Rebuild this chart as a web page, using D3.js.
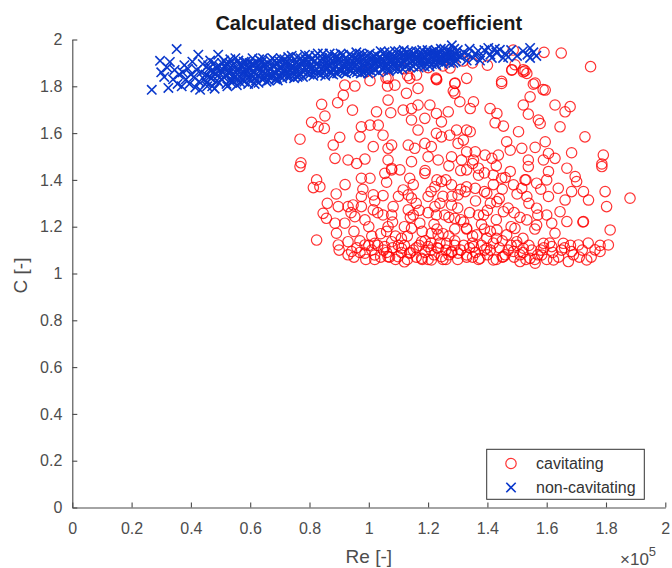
<!DOCTYPE html>
<html>
<head>
<meta charset="utf-8">
<script src="https://cdn.jsdelivr.net/npm/d3@7"></script>
<style>
  body { margin: 0; background: #fff; }
  svg { display: block; }
  text { font-family: "Liberation Sans", Arial, Helvetica, sans-serif; }
</style>
</head>
<body>
<svg id="chart" width="672" height="568"></svg>
<script>
// Re values are in units of 1e5 (the axis carries the x10^5 multiplier)
const xTicks = [0, 0.2, 0.4, 0.6, 0.8, 1, 1.2, 1.4, 1.6, 1.8, 2];
const yTicks = [0, 0.2, 0.4, 0.6, 0.8, 1, 1.2, 1.4, 1.6, 1.8, 2];
const seriesNames = ["cavitating", "non-cavitating"];

// [Re (x1e5), C] for cavitating runs
const cavitating = [
  [0.919,1.805],[0.953,1.801],[0.914,1.762],[0.895,1.730],[0.841,1.723],[0.852,1.673],[0.807,1.646],[0.829,1.627],
  [0.850,1.620],[0.945,1.698],[1.004,1.824],[1.065,1.834],[1.063,1.801],[1.088,1.805],[1.127,1.770],[1.166,1.791],
  [1.138,1.834],[1.161,1.848],[1.228,1.831],[1.290,1.812],[1.290,1.770],[1.307,1.734],[1.065,1.741],[1.026,1.691],
  [1.074,1.687],[1.116,1.698],[1.144,1.705],[1.166,1.720],[1.206,1.720],[1.144,1.656],[1.189,1.663],[1.228,1.684],
  [1.268,1.691],[1.245,1.648],[1.296,1.613],[1.273,1.591],[1.245,1.584],[1.228,1.599],[1.166,1.613],[0.975,1.627],
  [1.004,1.634],[1.032,1.634],[0.970,1.584],[0.902,1.582],[0.880,1.549],[1.048,1.591],[1.015,1.542],[1.065,1.535],
  [1.077,1.549],[0.768,1.574],[0.771,1.473],[0.886,1.492],[0.930,1.485],[0.959,1.470],[0.987,1.489],[1.065,1.485],
  [1.077,1.449],[1.133,1.549],[1.155,1.535],[1.189,1.556],[1.211,1.542],[1.144,1.478],[1.200,1.499],[1.234,1.485],
  [1.279,1.499],[1.301,1.556],[1.313,1.485],
  [1.748,1.884],[1.482,1.869],[1.521,1.862],[1.533,1.855],[1.330,1.834],[1.448,1.812],[1.555,1.809],[1.595,1.784],
  [1.544,1.755],[1.521,1.720],[1.538,1.681],[1.628,1.720],[1.662,1.691],[1.679,1.713],[1.572,1.656],[1.578,1.641],
  [1.645,1.627],[1.505,1.606],[1.465,1.563],[1.516,1.535],[1.561,1.539],[1.595,1.563],[1.606,1.513],[1.628,1.492],
  [1.538,1.485],[1.589,1.485],[1.684,1.516],[1.729,1.584],[1.791,1.506],[1.786,1.468],[1.409,1.705],[1.432,1.684],
  [1.426,1.644],[1.454,1.630],[1.353,1.734],[1.342,1.705],[1.330,1.613],[1.342,1.606],[1.319,1.570],[1.330,1.520],
  [1.359,1.520],[1.392,1.506],[1.415,1.492],[1.437,1.506],[1.477,1.527],[1.353,1.485],
  [0.768,1.457],[0.824,1.400],[0.835,1.371],[0.813,1.367],[0.975,1.407],[1.004,1.407],[1.054,1.428],[1.077,1.443],
  [1.105,1.443],[1.138,1.407],[1.116,1.357],[1.133,1.336],[1.144,1.322],[0.975,1.329],[1.015,1.336],[1.048,1.333],
  [0.897,1.286],[0.930,1.286],[0.947,1.293],[0.975,1.286],[0.846,1.257],[0.857,1.236],[0.886,1.215],[0.919,1.215],
  [0.953,1.243],[0.987,1.229],[1.015,1.272],[1.048,1.250],[1.082,1.286],[1.077,1.250],[1.065,1.200],[1.133,1.272],
  [1.150,1.250],[1.172,1.215],[1.144,1.193],[1.223,1.286],[1.228,1.250],[1.211,1.172],[1.234,1.165],[0.824,1.143],
  [0.891,1.172],[0.897,1.122],[0.930,1.136],[0.942,1.094],[0.987,1.122],[1.020,1.129],[1.054,1.115],[1.077,1.136],
  [1.110,1.108],[1.138,1.087],[1.178,1.136],[1.200,1.115],[1.234,1.108],[1.262,1.129],[1.279,1.094],[1.301,1.087],
  [0.987,1.087],[1.020,1.079],[1.065,1.072],[1.099,1.072],[1.178,1.065],[1.211,1.058],[1.245,1.072],[1.256,1.250],
  [1.290,1.236],[1.279,1.293],[1.245,1.393],[1.279,1.379],[1.301,1.336],[1.200,1.329],[1.223,1.371],[1.189,1.428],
  [1.330,1.443],[1.370,1.450],[1.477,1.436],[1.420,1.421],[1.448,1.407],[1.538,1.457],[1.606,1.436],[1.668,1.450],
  [1.696,1.414],[1.701,1.393],[1.786,1.457],[1.527,1.400],[1.566,1.386],[1.600,1.400],[1.639,1.364],[1.684,1.350],
  [1.724,1.350],[1.741,1.314],[1.797,1.350],[1.802,1.286],[1.881,1.322],[1.488,1.379],[1.516,1.364],[1.533,1.329],
  [1.566,1.279],[1.606,1.329],[1.662,1.314],[1.645,1.264],[1.600,1.250],[1.533,1.229],[1.493,1.193],[1.566,1.207],
  [1.617,1.215],[1.668,1.222],[1.724,1.222],[1.722,1.220],[1.814,1.186],[1.808,1.122],[1.763,1.101],[1.780,1.094],
  [1.735,1.058],[1.673,1.051],[1.623,1.058],[1.583,1.079],[1.589,1.129],[1.628,1.172],[1.656,1.129],[1.684,1.094],
  [1.707,1.122],[1.617,1.115],[1.325,1.350],[1.359,1.364],[1.398,1.343],[1.432,1.307],[1.454,1.264],[1.387,1.250],
  [1.330,1.193],[1.364,1.165],[1.398,1.151],[1.432,1.186],[1.465,1.165],[1.499,1.136],[1.488,1.094],[1.454,1.072],
  [1.420,1.058],[1.375,1.065],[1.330,1.079],[1.353,1.115],[1.398,1.108],[1.521,1.108],[1.544,1.065],[1.510,1.051],
  [1.561,1.044],
  [0.990,1.862],[1.058,1.835],[1.131,1.845],[1.227,1.835],[1.250,1.887],[1.274,1.878],[1.318,1.908],[1.229,1.828],
  [1.285,1.780],[1.291,1.814],[1.448,1.821],[1.483,1.871],[1.493,1.892],[1.521,1.871],[1.527,1.866],[1.561,1.814],
  [1.588,1.786],[1.487,1.955],[1.591,1.945],[1.649,1.942],[1.200,1.880],[1.120,1.875],[1.350,1.900],[1.400,1.890],
  [0.900,1.100],[0.930,1.080],[0.960,1.110],[0.990,1.060],[1.010,1.100],[1.030,1.120],[1.040,1.070],[1.060,1.090],
  [1.080,1.110],[1.090,1.060],[1.110,1.090],[1.120,1.120],[1.130,1.060],[1.150,1.100],[1.160,1.070],[1.170,1.120],
  [1.190,1.090],[1.200,1.060],[1.220,1.080],[1.230,1.110],[1.250,1.060],[1.260,1.100],[1.270,1.080],[1.290,1.120],
  [1.300,1.060],[1.310,1.100],[1.330,1.070],[1.340,1.110],[1.360,1.090],[1.370,1.060],[1.380,1.120],[1.400,1.080],
  [1.410,1.100],[1.430,1.060],[1.440,1.110],[1.460,1.080],[1.470,1.100],[1.490,1.070],[1.500,1.120],[1.520,1.090],
  [1.530,1.060],[1.550,1.100],[1.570,1.080],[1.590,1.110],[1.600,1.060],[1.620,1.090],[1.640,1.070],[1.660,1.110],
  [1.690,1.080],[1.720,1.100],[1.750,1.070],[1.780,1.120],
  [1.120,1.200],[1.140,1.240],[1.160,1.300],[1.180,1.180],[1.200,1.260],[1.210,1.350],[1.220,1.210],[1.240,1.300],
  [1.250,1.170],[1.260,1.400],[1.270,1.240],[1.280,1.330],[1.290,1.190],[1.300,1.280],[1.310,1.440],[1.320,1.220],
  [1.330,1.370],[1.340,1.260],[1.350,1.160],[1.360,1.310],[1.370,1.420],[1.380,1.210],[1.390,1.350],[1.400,1.270],
  [1.410,1.180],[1.420,1.380],[1.430,1.230],[1.440,1.320],[1.450,1.140],[1.460,1.410],[1.470,1.280],[1.480,1.200],
  [1.500,1.340],[1.510,1.240],[1.520,1.150],[1.540,1.300],[1.560,1.190],[1.580,1.360],[1.150,1.380],[1.190,1.440],
  [1.230,1.400],[1.270,1.460],[1.310,1.360],[1.350,1.470],[1.390,1.430],[1.430,1.460],[1.130,1.160],[1.170,1.270],
  [1.210,1.130],[1.250,1.330],[1.290,1.140],[1.330,1.190],[1.370,1.250],[1.410,1.300],[1.450,1.360],[1.490,1.260],
  [1.530,1.400],[1.570,1.250],
  [0.860,1.300],[0.890,1.340],[0.920,1.380],[0.950,1.180],[0.980,1.360],[1.000,1.200],[1.020,1.310],[1.040,1.170],
  [1.060,1.390],[1.080,1.220],[1.100,1.330],[0.940,1.260],[0.970,1.140],[1.030,1.260],[1.090,1.160],
  [0.950,1.070],[0.970,1.090],[1.000,1.120],[1.020,1.060],[1.050,1.100],[1.070,1.070],[1.100,1.120],[1.120,1.050],
  [1.140,1.090],[1.160,1.110],[1.180,1.060],[1.210,1.100],[1.240,1.130],[1.260,1.060],[1.280,1.090],[1.320,1.120],
  [1.350,1.070],[1.390,1.100],[1.420,1.130],[1.450,1.070],[1.480,1.120],[1.510,1.080],[1.540,1.120],[1.560,1.060],
  [1.580,1.100],[1.610,1.130],[1.650,1.100],[1.680,1.120],[1.710,1.070],[1.740,1.130],[1.110,1.150],[1.190,1.140],
  [1.270,1.160],[1.350,1.130],[1.430,1.150],[1.010,1.160],[1.060,1.180],[1.230,1.190],[1.310,1.230],[1.390,1.190]
];

// [Re (x1e5), C] for non-cavitating runs
const nonCavitating = [
  [0.268,1.785],[0.296,1.909],[0.329,1.904],[0.352,1.959],[0.324,1.793],[0.300,1.860],[0.310,1.840],[0.320,1.880],
  [0.340,1.830],[0.345,1.870],[0.360,1.850],[0.355,1.810],
  [0.369,1.800],[0.372,1.860],[0.378,1.890],[0.383,1.830],[0.390,1.875],[0.395,1.810],[0.400,1.850],[0.405,1.905],
  [0.410,1.840],[0.415,1.795],[0.420,1.870],[0.425,1.935],[0.428,1.820],[0.431,1.785],[0.435,1.860],[0.440,1.895],
  [0.445,1.830],[0.450,1.850],[0.455,1.800],[0.460,1.875],[0.465,1.910],[0.470,1.835],[0.475,1.860],[0.480,1.790],
  [0.485,1.880],[0.490,1.845],[0.492,1.935],[0.495,1.815],[0.500,1.870],[0.505,1.900],
  [0.510,1.840],[0.515,1.880],[0.520,1.810],[0.525,1.860],[0.530,1.900],[0.535,1.830],[0.540,1.875],[0.545,1.850],
  [0.550,1.920],[0.555,1.805],[0.560,1.870],[0.565,1.840],[0.570,1.890],[0.575,1.860],[0.580,1.820],[0.585,1.905],
  [0.590,1.850],[0.595,1.875],[0.600,1.830],[0.605,1.895],[0.610,1.860],[0.615,1.810],[0.620,1.880],[0.625,1.845],
  [0.630,1.915],[0.635,1.870],[0.640,1.830],[0.645,1.890],[0.650,1.855],[0.655,1.820],[0.660,1.900],[0.665,1.875],
  [0.670,1.840],[0.675,1.920],[0.680,1.860],[0.685,1.830],[0.690,1.895],[0.695,1.870],[0.700,1.845],
  [0.520,1.895],[0.540,1.825],[0.560,1.910],[0.580,1.860],[0.600,1.875],[0.620,1.825],[0.640,1.905],[0.660,1.845],
  [0.680,1.885],[0.700,1.905],[0.530,1.855],[0.570,1.835],[0.610,1.895],[0.650,1.875],[0.690,1.835],
  [0.705,1.880],[0.710,1.850],[0.715,1.915],[0.720,1.870],[0.725,1.840],[0.730,1.900],[0.735,1.865],[0.740,1.930],
  [0.745,1.885],[0.750,1.850],[0.755,1.905],[0.760,1.875],[0.765,1.845],[0.770,1.920],[0.775,1.890],[0.780,1.860],
  [0.785,1.935],[0.790,1.875],[0.795,1.900],[0.800,1.850],[0.805,1.915],[0.810,1.880],[0.815,1.860],[0.820,1.930],
  [0.825,1.895],[0.830,1.855],[0.835,1.910],[0.840,1.875],[0.845,1.940],[0.850,1.860],[0.855,1.900],[0.860,1.880],
  [0.865,1.925],[0.870,1.865],[0.875,1.895],[0.880,1.850],[0.885,1.935],[0.890,1.885],[0.895,1.910],[0.900,1.870],
  [0.905,1.940],[0.910,1.890],[0.915,1.860],[0.920,1.920],[0.925,1.900],[0.930,1.875],[0.935,1.935],[0.940,1.865],
  [0.945,1.905],[0.950,1.885],[0.955,1.925],[0.960,1.860],[0.965,1.900],[0.970,1.940],[0.975,1.875],[0.980,1.915],
  [0.985,1.890],[0.990,1.865],[0.995,1.930],[1.000,1.900],
  [0.720,1.900],[0.760,1.840],[0.800,1.885],[0.840,1.905],[0.880,1.870],[0.920,1.890],[0.960,1.915],[1.000,1.870],
  [0.740,1.860],[0.780,1.905],[0.820,1.865],[0.860,1.900],[0.900,1.920],[0.940,1.885],[0.980,1.860],
  [1.005,1.880],[1.010,1.920],[1.015,1.895],[1.020,1.870],[1.025,1.935],[1.030,1.905],[1.035,1.885],[1.040,1.950],
  [1.045,1.915],[1.050,1.880],[1.055,1.930],[1.060,1.900],[1.065,1.875],[1.070,1.945],[1.075,1.915],[1.080,1.890],
  [1.085,1.930],[1.090,1.905],[1.095,1.880],[1.100,1.950],[1.105,1.920],[1.110,1.895],[1.115,1.935],[1.120,1.905],
  [1.125,1.885],[1.130,1.945],[1.135,1.920],[1.140,1.900],[1.145,1.935],[1.150,1.885],[1.155,1.915],[1.160,1.950],
  [1.165,1.905],[1.170,1.930],[1.175,1.890],[1.180,1.955],[1.185,1.920],[1.190,1.900],[1.195,1.940],[1.200,1.910],
  [1.205,1.885],[1.210,1.945],[1.215,1.925],[1.220,1.900],[1.225,1.955],[1.230,1.930],[1.235,1.905],[1.240,1.945],
  [1.245,1.920],[1.250,1.895],[1.255,1.960],[1.260,1.935],[1.265,1.910],[1.270,1.950],[1.275,1.925],[1.280,1.975],
  [1.285,1.900],[1.290,1.940],[1.295,1.920],[1.300,1.955],
  [1.020,1.900],[1.060,1.925],[1.100,1.905],[1.140,1.925],[1.180,1.910],[1.220,1.935],[1.260,1.915],[1.040,1.890],
  [1.080,1.910],[1.120,1.935],[1.160,1.920],[1.200,1.940],[1.240,1.915],
  [1.310,1.925],[1.320,1.945],[1.330,1.910],[1.340,1.960],[1.352,1.921],[1.360,1.940],[1.369,1.951],[1.380,1.925],
  [1.390,1.955],[1.403,1.964],[1.410,1.935],[1.415,1.921],[1.430,1.945],[1.442,1.956],[1.453,1.921],[1.460,1.940],
  [1.480,1.955],[1.500,1.930],[1.520,1.950],[1.535,1.935],[1.544,1.964],[1.544,1.921],[1.555,1.945],[1.565,1.930],
  [1.335,1.935],[1.375,1.910],[1.425,1.960],[1.470,1.925],
  [0.452,1.815],[0.458,1.890],[0.462,1.840],[0.468,1.865],[0.472,1.800],[0.478,1.900],[0.482,1.855],[0.488,1.825],
  [0.497,1.885],[0.503,1.830],[0.508,1.860],[0.512,1.910],[0.518,1.845],[0.523,1.800],[0.528,1.875],[0.533,1.915],
  [0.538,1.815],[0.543,1.895],[0.548,1.840],[0.553,1.870],[0.558,1.830],[0.563,1.895],[0.568,1.815],[0.573,1.880],
  [0.578,1.905],[0.583,1.840],[0.588,1.870],[0.593,1.810],[0.598,1.900],[0.603,1.845],[0.608,1.920],[0.613,1.865],
  [0.618,1.835],[0.623,1.900],[0.628,1.815],[0.633,1.880],[0.638,1.855],[0.643,1.920],[0.648,1.835],[0.653,1.895],
  [0.658,1.865],[0.663,1.825],[0.668,1.910],[0.673,1.850],[0.678,1.885],[0.683,1.910],[0.688,1.855],[0.693,1.825],
  [0.698,1.880],
  [0.703,1.920],[0.708,1.835],[0.713,1.870],[0.718,1.895],[0.723,1.855],[0.728,1.925],[0.733,1.840],[0.738,1.880],
  [0.743,1.905],[0.748,1.835],[0.753,1.870],[0.758,1.925],[0.763,1.890],[0.768,1.855],[0.773,1.905],[0.778,1.840],
  [0.783,1.880],[0.788,1.915],[0.793,1.855],[0.798,1.930],[0.803,1.870],[0.808,1.895],[0.813,1.845],[0.818,1.910],
  [0.823,1.875],[0.828,1.940],[0.833,1.885],[0.838,1.850],[0.843,1.920],[0.848,1.880],[0.853,1.845],[0.858,1.915],
  [0.863,1.890],[0.868,1.940],[0.873,1.855],[0.878,1.910],[0.883,1.875],[0.888,1.925],[0.893,1.855],[0.898,1.895],
  [0.903,1.915],[0.908,1.865],[0.913,1.935],[0.918,1.880],[0.923,1.855],[0.928,1.910],[0.933,1.895],[0.938,1.870],
  [0.943,1.930],[0.948,1.860],[0.953,1.900],[0.958,1.945],[0.963,1.875],[0.968,1.920],[0.973,1.855],[0.978,1.895],
  [0.983,1.935],[0.988,1.880],[0.993,1.910],[0.998,1.855],
  [1.003,1.940],[1.008,1.865],[1.013,1.905],[1.018,1.930],[1.023,1.875],[1.028,1.915],[1.033,1.860],[1.038,1.925],
  [1.043,1.900],[1.048,1.870],[1.053,1.945],[1.058,1.890],[1.063,1.915],[1.068,1.865],[1.073,1.930],[1.078,1.905],
  [1.083,1.875],[1.088,1.950],[1.093,1.920],[1.098,1.870],[1.103,1.935],[1.108,1.900],[1.113,1.875],[1.118,1.955],
  [1.123,1.920],[1.128,1.895],[1.133,1.930],[1.138,1.880],[1.143,1.950],[1.148,1.910],[1.153,1.935],[1.158,1.895],
  [1.163,1.925],[1.168,1.880],[1.173,1.945],[1.178,1.905],[1.183,1.935],[1.188,1.885],[1.193,1.925],[1.198,1.955],
  [1.203,1.900],[1.208,1.930],[1.213,1.895],[1.218,1.950],[1.223,1.915],[1.228,1.890],[1.233,1.940],[1.238,1.925],
  [1.243,1.960],[1.248,1.905],[1.253,1.935],[1.258,1.910],[1.263,1.950],[1.268,1.930],[1.273,1.900],[1.278,1.945],
  [1.283,1.925],[1.288,1.960],[1.293,1.905],[1.298,1.935]
];

const W = 672, H = 568;
const plot = { left: 72.3, right: 665.3, top: 39.5, bottom: 507.5 };
const axisColor = "#4a4a4a";
const cavColor = "#ff0000";
const nonColor = "#0a38cc";

const svg = d3.select("#chart");
svg.append("rect").attr("width", W).attr("height", H).attr("fill", "#fff");

const x = d3.scaleLinear().domain([0, 2]).range([plot.left, plot.right]);
const y = d3.scaleLinear().domain([0, 2]).range([plot.bottom, plot.top]);

// Axes: left and bottom only, ticks pointing into the plot
const xAxis = svg.append("g")
  .attr("transform", `translate(0,${plot.bottom})`)
  .call(d3.axisBottom(x).tickValues(xTicks).tickFormat(d3.format("~g"))
    .tickSizeInner(-5).tickSizeOuter(0).tickPadding(15.5));
const yAxis = svg.append("g")
  .attr("transform", `translate(${plot.left},0)`)
  .call(d3.axisLeft(y).tickValues(yTicks).tickFormat(d3.format("~g"))
    .tickSizeInner(-5).tickSizeOuter(0).tickPadding(10));

[xAxis, yAxis].forEach(g => {
  g.select(".domain").attr("stroke", axisColor).attr("stroke-width", 1.1);
  g.selectAll(".tick line").attr("stroke", axisColor).attr("stroke-width", 1.1);
  g.selectAll(".tick text").attr("fill", "#4d4d4d")
    .style("font-size", "16px").style("font-family", '"Liberation Sans", Arial, sans-serif');
});

// Cavitating runs: open circles
const markers = svg.append("g");
markers.selectAll("circle.cav").data(cavitating).join("circle")
  .attr("class", "cav")
  .attr("cx", d => x(d[0])).attr("cy", d => y(d[1])).attr("r", 5.2)
  .attr("fill", "none").attr("stroke", cavColor).attr("stroke-width", 1.2)
  .attr("stroke-opacity", 0.8);

// Non-cavitating runs: crosses
const xMark = (cx, cy, s) => `M${cx - s},${cy - s}L${cx + s},${cy + s}M${cx - s},${cy + s}L${cx + s},${cy - s}`;
markers.selectAll("path.non").data(nonCavitating).join("path")
  .attr("class", "non")
  .attr("d", d => xMark(x(d[0]), y(d[1]), 4.7))
  .attr("fill", "none").attr("stroke", nonColor).attr("stroke-width", 1.6);

// Title and axis labels
svg.append("text")
  .attr("x", (plot.left + plot.right) / 2).attr("y", 30)
  .attr("text-anchor", "middle")
  .style("font-size", "20px").style("font-weight", "bold").attr("fill", "#1a1a1a")
  .text("Calculated discharge coefficient");

svg.append("text")
  .attr("x", (plot.left + plot.right) / 2).attr("y", 563)
  .attr("text-anchor", "middle")
  .style("font-size", "19px").attr("fill", "#4d4d4d")
  .text("Re [-]");

svg.append("text")
  .attr("transform", `translate(27,${(plot.top + plot.bottom) / 2 + 2}) rotate(-90)`)
  .attr("text-anchor", "middle")
  .style("font-size", "19px").attr("fill", "#4d4d4d")
  .text("C [-]");

// Exponent of the x axis
const expo = svg.append("text")
  .attr("x", 620).attr("y", 565)
  .style("font-size", "17px").attr("fill", "#4d4d4d");
expo.append("tspan").text("\u00d710");
expo.append("tspan").attr("dy", -9).style("font-size", "13px").text("5");

// Legend
const legend = svg.append("g").attr("transform", "translate(486.7,449.3)");
legend.append("rect").attr("width", 157.6).attr("height", 50)
  .attr("fill", "#fff").attr("stroke", "#333").attr("stroke-width", 1);
legend.append("circle").attr("cx", 24.3).attr("cy", 14.2).attr("r", 5.2)
  .attr("fill", "none").attr("stroke", cavColor).attr("stroke-width", 1.2).attr("stroke-opacity", 0.8);
legend.append("path").attr("d", xMark(24.3, 38.2, 4.7))
  .attr("fill", "none").attr("stroke", nonColor).attr("stroke-width", 1.6);
legend.selectAll("text.item").data(seriesNames).join("text")
  .attr("class", "item")
  .attr("x", 49.3).attr("y", (d, i) => 19.8 + i * 24)
  .style("font-size", "16px").attr("fill", "#333")
  .text(d => d);
</script>
</body>
</html>
